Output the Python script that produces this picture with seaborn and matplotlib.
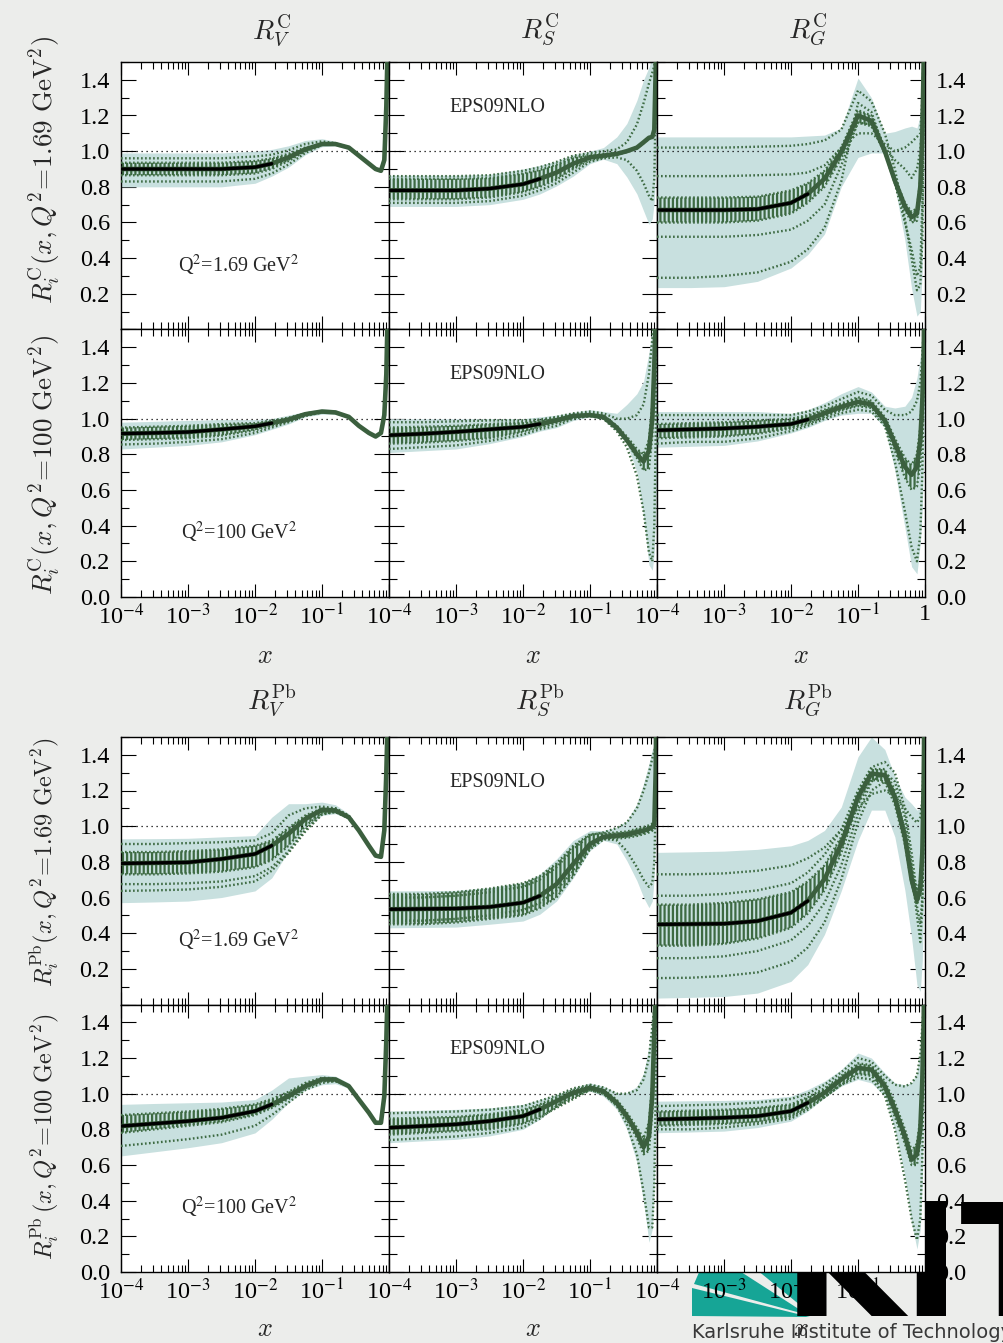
# EPS09NLO: ratios R_i^A(x,Q^2) para carbono (C) y plomo (Pb)
# Valencia (V), mar (S) y gluones (G) a Q^2 = 1.69 y 100 GeV^2
import numpy as np
import matplotlib
matplotlib.use("Agg")
import matplotlib.pyplot as plt
import seaborn as sns
from matplotlib.patches import Polygon
from matplotlib.ticker import (FixedLocator, FixedFormatter, LogLocator,
                               MultipleLocator, FuncFormatter, NullFormatter)

# ------------------------------------------------------------------
# Datos (log10 x comun a todas las curvas)
# ------------------------------------------------------------------
LOGX = [-4, -3.5, -3, -2.5, -2, -1.75, -1.5, -1.25, -1, -0.8, -0.6, -0.45, -0.3, -0.2, -0.12, -0.07, -0.04, -0.02, 0]

# --- Carbono, Q^2 = 1.69 GeV^2 ---
C1V_c   = [0.90, 0.90, 0.90, 0.90, 0.91, 0.93, 0.965, 1.01, 1.04, 1.04, 1.02, 0.975, 0.93, 0.90, 0.89, 0.95, 1.25, 1.60, 2.00]
C1V_lo  = [0.80, 0.80, 0.80, 0.80, 0.82, 0.86, 0.91, 0.98, 1.025, 1.03, 1.01, 0.965, 0.92, 0.89, 0.88, 0.94, 1.24, 1.60, 2.00]
C1V_hi  = [0.99, 0.99, 0.99, 0.99, 1.00, 1.01, 1.03, 1.06, 1.07, 1.055, 1.03, 0.985, 0.94, 0.91, 0.90, 0.96, 1.26, 1.60, 2.00]
C1V_hlo = [0.865, 0.865, 0.865, 0.865, 0.875, 0.90, 0.945, 1.00, 1.04, 1.04, 1.02, 0.975, 0.93, 0.90, 0.89, 0.95, 1.25, 1.60, 2.00]
C1V_hhi = [0.935, 0.935, 0.935, 0.935, 0.945, 0.96, 0.985, 1.02, 1.04, 1.04, 1.02, 0.975, 0.93, 0.90, 0.89, 0.95, 1.25, 1.60, 2.00]
C1V_d1  = [0.83, 0.83, 0.83, 0.83, 0.845, 0.875, 0.925, 0.99, 1.035, 1.04, 1.02, 0.975, 0.93, 0.90, 0.89, 0.95, 1.25, 1.60, 2.00]
C1V_d2  = [0.96, 0.96, 0.96, 0.96, 0.97, 0.98, 1.005, 1.04, 1.055, 1.045, 1.02, 0.975, 0.93, 0.90, 0.89, 0.95, 1.25, 1.60, 2.00]

C1S_c   = [0.78, 0.78, 0.78, 0.79, 0.815, 0.845, 0.88, 0.93, 0.965, 0.975, 0.985, 1.00, 1.02, 1.05, 1.075, 1.08, 1.12, 1.45, 2.00]
C1S_lo  = [0.69, 0.69, 0.69, 0.70, 0.73, 0.76, 0.805, 0.86, 0.93, 0.955, 0.93, 0.855, 0.76, 0.665, 0.59, 0.62, 0.72, 0.90, 1.40]
C1S_hi  = [0.865, 0.865, 0.865, 0.87, 0.90, 0.92, 0.945, 0.98, 1.00, 1.02, 1.08, 1.155, 1.285, 1.40, 1.47, 1.52, 1.55, 1.60, 1.60]
C1S_hlo = [0.73, 0.73, 0.73, 0.74, 0.77, 0.80, 0.84, 0.90, 0.95, 0.965, 0.98, 0.995, 1.015, 1.045, 1.07, 1.075, 1.12, 1.45, 2.00]
C1S_hhi = [0.845, 0.845, 0.845, 0.85, 0.875, 0.895, 0.925, 0.965, 0.98, 0.985, 0.99, 1.00, 1.02, 1.05, 1.075, 1.08, 1.12, 1.45, 2.00]
C1S_d1  = [0.86, 0.86, 0.86, 0.865, 0.89, 0.91, 0.94, 0.975, 0.99, 1.00, 1.01, 1.05, 1.15, 1.27, 1.38, 1.44, 1.48, 1.60, 2.00]
C1S_d2  = [0.71, 0.71, 0.71, 0.72, 0.75, 0.78, 0.82, 0.88, 0.94, 0.96, 0.965, 0.95, 0.89, 0.82, 0.75, 0.72, 0.85, 1.30, 2.00]

C1G_c   = [0.67, 0.67, 0.67, 0.675, 0.71, 0.76, 0.845, 0.995, 1.20, 1.17, 1.00, 0.835, 0.69, 0.63, 0.65, 0.80, 1.09, 1.50, 2.00]
C1G_lo  = [0.235, 0.235, 0.24, 0.27, 0.345, 0.42, 0.535, 0.80, 0.965, 0.99, 0.99, 0.80, 0.50, 0.23, 0.075, 0.10, 0.34, 0.80, 1.30]
C1G_hi  = [1.08, 1.08, 1.08, 1.08, 1.08, 1.085, 1.09, 1.13, 1.41, 1.30, 1.10, 1.11, 1.13, 1.14, 1.13, 1.20, 1.50, 1.60, 1.60]
C1G_hlo = [0.60, 0.60, 0.60, 0.61, 0.65, 0.71, 0.80, 0.96, 1.16, 1.14, 0.99, 0.82, 0.67, 0.60, 0.61, 0.75, 1.05, 1.50, 2.00]
C1G_hhi = [0.74, 0.74, 0.74, 0.745, 0.78, 0.82, 0.89, 1.02, 1.23, 1.20, 1.02, 0.85, 0.71, 0.66, 0.68, 0.84, 1.12, 1.50, 2.00]
C1G_d1  = [1.02, 1.02, 1.02, 1.025, 1.03, 1.04, 1.06, 1.12, 1.34, 1.28, 1.10, 0.90, 0.62, 0.40, 0.22, 0.25, 0.50, 1.20, 2.00]
C1G_d2  = [0.86, 0.86, 0.86, 0.865, 0.87, 0.88, 0.92, 1.02, 1.10, 1.10, 1.04, 1.00, 1.02, 1.05, 1.08, 1.10, 1.30, 1.60, 2.00]
C1G_d3  = [0.29, 0.29, 0.30, 0.32, 0.38, 0.45, 0.57, 0.83, 1.27, 1.22, 1.00, 0.82, 0.60, 0.45, 0.30, 0.35, 0.70, 1.30, 2.00]
C1G_d4  = [0.52, 0.52, 0.52, 0.53, 0.56, 0.61, 0.70, 0.92, 1.16, 1.15, 1.02, 0.95, 0.90, 0.85, 0.90, 1.00, 1.20, 1.50, 2.00]

# --- Carbono, Q^2 = 100 GeV^2 ---
C2V_c   = [0.916, 0.92, 0.925, 0.94, 0.957, 0.975, 0.995, 1.025, 1.04, 1.035, 1.01, 0.96, 0.92, 0.90, 0.92, 1.02, 1.25, 1.60, 2.00]
C2V_lo  = [0.83, 0.84, 0.85, 0.87, 0.91, 0.94, 0.97, 1.01, 1.025, 1.025, 1.00, 0.95, 0.91, 0.89, 0.91, 1.01, 1.24, 1.60, 2.00]
C2V_hi  = [0.98, 0.985, 0.99, 0.995, 0.995, 1.00, 1.02, 1.04, 1.055, 1.05, 1.02, 0.97, 0.93, 0.91, 0.93, 1.03, 1.26, 1.60, 2.00]
C2V_hlo = [0.88, 0.885, 0.89, 0.905, 0.935, 0.96, 0.985, 1.02, 1.04, 1.035, 1.01, 0.96, 0.92, 0.90, 0.92, 1.02, 1.25, 1.60, 2.00]
C2V_hhi = [0.95, 0.955, 0.96, 0.97, 0.975, 0.99, 1.005, 1.03, 1.04, 1.035, 1.01, 0.96, 0.92, 0.90, 0.92, 1.02, 1.25, 1.60, 2.00]
C2V_d1  = [0.855, 0.86, 0.87, 0.885, 0.92, 0.95, 0.98, 1.015, 1.035, 1.035, 1.01, 0.96, 0.92, 0.90, 0.92, 1.02, 1.25, 1.60, 2.00]

C2S_c   = [0.907, 0.915, 0.926, 0.94, 0.954, 0.97, 0.99, 1.015, 1.02, 1.01, 0.95, 0.88, 0.80, 0.76, 0.82, 1.00, 1.30, 1.60, 2.00]
C2S_lo  = [0.81, 0.82, 0.83, 0.86, 0.90, 0.93, 0.95, 0.99, 1.01, 0.995, 0.93, 0.86, 0.70, 0.45, 0.18, 0.15, 0.25, 0.45, 0.80]
C2S_hi  = [1.00, 1.00, 1.00, 1.00, 1.00, 1.01, 1.02, 1.035, 1.05, 1.04, 1.03, 1.08, 1.14, 1.21, 1.37, 1.50, 1.60, 1.60, 2.00]
C2S_hlo = [0.86, 0.865, 0.875, 0.89, 0.925, 0.95, 0.975, 1.005, 1.015, 1.00, 0.94, 0.87, 0.78, 0.71, 0.72, 0.90, 1.20, 1.60, 2.00]
C2S_hhi = [0.95, 0.955, 0.96, 0.97, 0.98, 0.99, 1.005, 1.025, 1.03, 1.02, 0.96, 0.90, 0.83, 0.80, 0.88, 1.08, 1.35, 1.60, 2.00]
C2S_d1  = [0.83, 0.84, 0.85, 0.875, 0.91, 0.94, 0.96, 1.00, 1.015, 1.00, 0.93, 0.84, 0.68, 0.48, 0.25, 0.20, 0.40, 0.90, 2.00]
C2S_d2  = [0.98, 0.98, 0.985, 0.99, 0.99, 0.995, 1.01, 1.03, 1.04, 1.03, 1.00, 1.00, 1.02, 1.08, 1.25, 1.45, 1.60, 2.00, 2.00]

C2G_c   = [0.935, 0.94, 0.945, 0.955, 0.97, 0.995, 1.03, 1.066, 1.094, 1.08, 0.99, 0.86, 0.73, 0.685, 0.73, 0.88, 1.10, 1.35, 2.00]
C2G_lo  = [0.84, 0.845, 0.85, 0.875, 0.92, 0.95, 0.99, 1.02, 1.03, 1.03, 0.95, 0.71, 0.39, 0.17, 0.13, 0.30, 0.50, 0.80, 1.20]
C2G_hi  = [1.04, 1.04, 1.04, 1.04, 1.03, 1.05, 1.09, 1.14, 1.18, 1.15, 1.07, 1.06, 1.07, 1.12, 1.23, 1.35, 1.45, 1.50, 2.00]
C2G_hlo = [0.89, 0.895, 0.90, 0.915, 0.945, 0.97, 1.01, 1.045, 1.07, 1.06, 0.97, 0.82, 0.67, 0.60, 0.62, 0.75, 1.00, 1.35, 2.00]
C2G_hhi = [0.97, 0.975, 0.98, 0.99, 1.00, 1.02, 1.05, 1.085, 1.12, 1.10, 1.01, 0.89, 0.78, 0.74, 0.80, 0.95, 1.20, 1.45, 2.00]
C2G_d1  = [0.86, 0.87, 0.87, 0.89, 0.93, 0.96, 1.00, 1.03, 1.05, 1.04, 0.96, 0.76, 0.48, 0.28, 0.20, 0.35, 0.70, 1.20, 2.00]
C2G_d2  = [1.02, 1.02, 1.02, 1.02, 1.02, 1.04, 1.07, 1.11, 1.15, 1.13, 1.05, 1.02, 1.02, 1.04, 1.10, 1.20, 1.35, 1.50, 2.00]

# --- Plomo, Q^2 = 1.69 GeV^2 ---
P1V_c   = [0.791, 0.794, 0.797, 0.816, 0.844, 0.891, 0.957, 1.04, 1.092, 1.088, 1.05, 0.976, 0.89, 0.835, 0.828, 0.976, 1.30, 1.60, 2.00]
P1V_lo  = [0.571, 0.575, 0.58, 0.60, 0.637, 0.71, 0.86, 0.99, 1.06, 1.07, 1.04, 0.966, 0.88, 0.825, 0.818, 0.966, 1.29, 1.60, 2.00]
P1V_hi  = [0.929, 0.93, 0.932, 0.94, 0.947, 1.05, 1.126, 1.126, 1.135, 1.12, 1.07, 0.986, 0.90, 0.845, 0.838, 0.986, 1.31, 1.60, 2.00]
P1V_hlo = [0.73, 0.73, 0.735, 0.745, 0.77, 0.81, 0.89, 1.00, 1.075, 1.08, 1.045, 0.976, 0.89, 0.835, 0.828, 0.976, 1.30, 1.60, 2.00]
P1V_hhi = [0.855, 0.855, 0.86, 0.87, 0.89, 0.92, 0.99, 1.06, 1.10, 1.10, 1.055, 0.976, 0.89, 0.835, 0.828, 0.976, 1.30, 1.60, 2.00]
P1V_d1  = [0.675, 0.675, 0.68, 0.69, 0.72, 0.77, 0.86, 0.98, 1.07, 1.08, 1.045, 0.976, 0.89, 0.835, 0.828, 0.976, 1.30, 1.60, 2.00]
P1V_d2  = [0.637, 0.64, 0.645, 0.66, 0.69, 0.75, 0.85, 0.97, 1.065, 1.08, 1.045, 0.976, 0.89, 0.835, 0.828, 0.976, 1.30, 1.60, 2.00]
P1V_d3  = [0.90, 0.90, 0.905, 0.91, 0.92, 0.96, 1.06, 1.10, 1.11, 1.10, 1.06, 0.976, 0.89, 0.835, 0.828, 0.976, 1.30, 1.60, 2.00]

P1S_c   = [0.534, 0.536, 0.538, 0.547, 0.571, 0.609, 0.675, 0.788, 0.90, 0.94, 0.947, 0.953, 0.966, 0.975, 0.985, 0.994, 1.01, 1.30, 2.00]
P1S_lo  = [0.43, 0.432, 0.434, 0.45, 0.468, 0.506, 0.58, 0.71, 0.863, 0.92, 0.90, 0.806, 0.694, 0.60, 0.543, 0.58, 0.72, 1.00, 1.40]
P1S_hi  = [0.637, 0.638, 0.64, 0.656, 0.684, 0.73, 0.816, 0.92, 0.975, 0.975, 0.994, 1.03, 1.126, 1.24, 1.35, 1.43, 1.46, 1.50, 1.60]
P1S_hlo = [0.45, 0.45, 0.46, 0.48, 0.50, 0.54, 0.60, 0.72, 0.87, 0.925, 0.93, 0.935, 0.945, 0.955, 0.965, 0.975, 1.00, 1.30, 2.00]
P1S_hhi = [0.62, 0.62, 0.63, 0.65, 0.68, 0.72, 0.79, 0.89, 0.955, 0.96, 0.965, 0.97, 0.985, 0.995, 1.005, 1.015, 1.03, 1.30, 2.00]
P1S_d1  = [0.60, 0.60, 0.61, 0.63, 0.66, 0.70, 0.77, 0.87, 0.95, 0.965, 0.99, 1.02, 1.10, 1.20, 1.30, 1.38, 1.42, 1.45, 2.00]
P1S_d2  = [0.47, 0.47, 0.48, 0.50, 0.53, 0.57, 0.64, 0.75, 0.88, 0.93, 0.92, 0.86, 0.77, 0.70, 0.66, 0.68, 0.80, 1.10, 2.00]

P1G_c   = [0.449, 0.451, 0.453, 0.468, 0.515, 0.581, 0.703, 0.90, 1.163, 1.295, 1.286, 1.163, 0.938, 0.70, 0.585, 0.65, 0.85, 1.25, 2.00]
P1G_lo  = [0.036, 0.04, 0.045, 0.064, 0.13, 0.224, 0.393, 0.637, 0.919, 1.09, 1.09, 0.94, 0.64, 0.374, 0.11, 0.073, 0.25, 0.60, 1.00]
P1G_hi  = [0.853, 0.856, 0.86, 0.87, 0.89, 0.92, 0.976, 1.107, 1.389, 1.50, 1.43, 1.28, 1.163, 1.126, 1.09, 1.10, 1.25, 1.45, 1.60]
P1G_hlo = [0.33, 0.33, 0.34, 0.37, 0.43, 0.51, 0.64, 0.85, 1.12, 1.26, 1.25, 1.12, 0.90, 0.68, 0.56, 0.62, 0.82, 1.25, 2.00]
P1G_hhi = [0.56, 0.56, 0.57, 0.59, 0.63, 0.69, 0.78, 0.94, 1.19, 1.32, 1.32, 1.20, 0.98, 0.76, 0.64, 0.70, 0.90, 1.30, 2.00]
P1G_d1  = [0.73, 0.73, 0.735, 0.75, 0.78, 0.82, 0.88, 0.98, 1.10, 1.18, 1.20, 1.17, 1.10, 1.05, 1.02, 1.05, 1.15, 1.40, 2.00]
P1G_d2  = [0.61, 0.61, 0.62, 0.64, 0.68, 0.74, 0.84, 0.98, 1.20, 1.33, 1.36, 1.30, 1.10, 0.85, 0.62, 0.60, 0.80, 1.20, 2.00]
P1G_d3  = [0.148, 0.15, 0.16, 0.18, 0.24, 0.32, 0.46, 0.70, 1.02, 1.20, 1.25, 1.18, 0.98, 0.75, 0.50, 0.35, 0.55, 1.00, 2.00]
P1G_d4  = [0.26, 0.26, 0.27, 0.30, 0.36, 0.44, 0.57, 0.78, 1.07, 1.25, 1.30, 1.25, 1.05, 0.78, 0.55, 0.45, 0.60, 1.00, 2.00]

# --- Plomo, Q^2 = 100 GeV^2 ---
P2V_c   = [0.818, 0.832, 0.846, 0.865, 0.902, 0.94, 0.986, 1.042, 1.08, 1.08, 1.042, 0.967, 0.893, 0.837, 0.837, 0.986, 1.30, 1.60, 2.00]
P2V_lo  = [0.651, 0.674, 0.697, 0.725, 0.78, 0.856, 0.949, 1.02, 1.05, 1.056, 1.03, 0.957, 0.883, 0.827, 0.827, 0.976, 1.29, 1.60, 2.00]
P2V_hi  = [0.94, 0.945, 0.949, 0.953, 0.967, 1.02, 1.088, 1.098, 1.107, 1.098, 1.06, 0.977, 0.903, 0.847, 0.847, 0.996, 1.31, 1.60, 2.00]
P2V_hlo = [0.78, 0.80, 0.82, 0.84, 0.88, 0.92, 0.97, 1.03, 1.07, 1.07, 1.042, 0.967, 0.893, 0.837, 0.837, 0.986, 1.30, 1.60, 2.00]
P2V_hhi = [0.88, 0.89, 0.90, 0.915, 0.94, 0.97, 1.01, 1.06, 1.09, 1.085, 1.042, 0.967, 0.893, 0.837, 0.837, 0.986, 1.30, 1.60, 2.00]
P2V_d1  = [0.707, 0.725, 0.745, 0.77, 0.82, 0.88, 0.95, 1.02, 1.06, 1.07, 1.042, 0.967, 0.893, 0.837, 0.837, 0.986, 1.30, 1.60, 2.00]

P2S_c   = [0.809, 0.818, 0.828, 0.846, 0.874, 0.912, 0.958, 1.005, 1.033, 1.014, 0.949, 0.874, 0.781, 0.70, 0.76, 0.99, 1.35, 1.60, 2.00]
P2S_lo  = [0.725, 0.735, 0.744, 0.763, 0.80, 0.856, 0.93, 0.986, 1.014, 0.986, 0.912, 0.80, 0.614, 0.39, 0.167, 0.24, 0.50, 0.80, 1.20]
P2S_hi  = [0.902, 0.907, 0.912, 0.92, 0.94, 0.967, 0.995, 1.033, 1.06, 1.042, 1.005, 1.005, 1.04, 1.116, 1.265, 1.43, 1.50, 1.60, 2.00]
P2S_hlo = [0.77, 0.78, 0.79, 0.80, 0.83, 0.87, 0.92, 0.97, 1.02, 1.00, 0.935, 0.855, 0.75, 0.66, 0.68, 0.90, 1.25, 1.60, 2.00]
P2S_hhi = [0.86, 0.865, 0.87, 0.885, 0.91, 0.94, 0.98, 1.02, 1.045, 1.025, 0.965, 0.895, 0.81, 0.75, 0.84, 1.06, 1.40, 1.60, 2.00]
P2S_d1  = [0.74, 0.75, 0.76, 0.78, 0.81, 0.86, 0.93, 0.99, 1.02, 1.00, 0.93, 0.83, 0.66, 0.45, 0.25, 0.25, 0.50, 1.00, 2.00]
P2S_d2  = [0.89, 0.895, 0.90, 0.91, 0.93, 0.96, 0.99, 1.03, 1.05, 1.035, 1.00, 1.00, 1.02, 1.08, 1.20, 1.38, 1.48, 1.60, 2.00]

P2G_c   = [0.856, 0.86, 0.865, 0.874, 0.902, 0.949, 1.005, 1.08, 1.144, 1.135, 1.042, 0.912, 0.763, 0.63, 0.66, 0.80, 1.08, 1.40, 2.00]
P2G_lo  = [0.781, 0.785, 0.79, 0.81, 0.846, 0.902, 0.977, 1.042, 1.08, 1.06, 0.986, 0.80, 0.539, 0.278, 0.129, 0.24, 0.50, 0.90, 1.30]
P2G_hi  = [0.958, 0.96, 0.962, 0.967, 0.986, 1.023, 1.07, 1.135, 1.228, 1.20, 1.116, 1.06, 1.05, 1.06, 1.116, 1.265, 1.43, 1.50, 2.00]
P2G_hlo = [0.82, 0.825, 0.83, 0.84, 0.87, 0.92, 0.98, 1.05, 1.11, 1.10, 1.01, 0.87, 0.72, 0.60, 0.60, 0.74, 1.00, 1.35, 2.00]
P2G_hhi = [0.90, 0.905, 0.91, 0.92, 0.94, 0.98, 1.03, 1.10, 1.17, 1.16, 1.07, 0.95, 0.80, 0.68, 0.72, 0.86, 1.15, 1.45, 2.00]
P2G_d1  = [0.80, 0.80, 0.81, 0.83, 0.86, 0.91, 0.98, 1.05, 1.09, 1.08, 0.99, 0.80, 0.52, 0.30, 0.18, 0.30, 0.65, 1.10, 2.00]
P2G_d2  = [0.93, 0.935, 0.94, 0.95, 0.97, 1.00, 1.05, 1.12, 1.20, 1.18, 1.10, 1.05, 1.04, 1.06, 1.10, 1.22, 1.38, 1.50, 2.00]

# Textos
COL_TITLES = {"C": [r"$R_V^{\rm C}$", r"$R_S^{\rm C}$", r"$R_G^{\rm C}$"],
              "Pb": [r"$R_V^{\rm Pb}$", r"$R_S^{\rm Pb}$", r"$R_G^{\rm Pb}$"]}
ROW_YLABELS = {("C", 0): r"$R_i^{\rm C}(x,Q^2\!=\!1.69\ {\rm GeV}^2)$",
               ("C", 1): r"$R_i^{\rm C}(x,Q^2\!=\!100\ {\rm GeV}^2)$",
               ("Pb", 0): r"$R_i^{\rm Pb}(x,Q^2\!=\!1.69\ {\rm GeV}^2)$",
               ("Pb", 1): r"$R_i^{\rm Pb}\,(x,Q^2\!=\!100\ {\rm GeV}^2)$"}
Q2_TEXT = ["Q$^2$=1.69 GeV$^2$", "Q$^2$=100 GeV$^2$"]
XTICKS = [1e-4, 1e-3, 1e-2, 1e-1, 1.0]
XTICKLABELS = ["10$^{-4}$", "10$^{-3}$", "10$^{-2}$", "10$^{-1}$", "1"]

PANELS = {
    ("C", 0, 0): (C1V_c, C1V_lo, C1V_hi, C1V_hlo, C1V_hhi, [C1V_d1, C1V_d2]),
    ("C", 0, 1): (C1S_c, C1S_lo, C1S_hi, C1S_hlo, C1S_hhi, [C1S_d1, C1S_d2]),
    ("C", 0, 2): (C1G_c, C1G_lo, C1G_hi, C1G_hlo, C1G_hhi, [C1G_d1, C1G_d2, C1G_d3, C1G_d4]),
    ("C", 1, 0): (C2V_c, C2V_lo, C2V_hi, C2V_hlo, C2V_hhi, [C2V_d1]),
    ("C", 1, 1): (C2S_c, C2S_lo, C2S_hi, C2S_hlo, C2S_hhi, [C2S_d1, C2S_d2]),
    ("C", 1, 2): (C2G_c, C2G_lo, C2G_hi, C2G_hlo, C2G_hhi, [C2G_d1, C2G_d2]),
    ("Pb", 0, 0): (P1V_c, P1V_lo, P1V_hi, P1V_hlo, P1V_hhi, [P1V_d1, P1V_d2, P1V_d3]),
    ("Pb", 0, 1): (P1S_c, P1S_lo, P1S_hi, P1S_hlo, P1S_hhi, [P1S_d1, P1S_d2]),
    ("Pb", 0, 2): (P1G_c, P1G_lo, P1G_hi, P1G_hlo, P1G_hhi, [P1G_d1, P1G_d2, P1G_d3, P1G_d4]),
    ("Pb", 1, 0): (P2V_c, P2V_lo, P2V_hi, P2V_hlo, P2V_hhi, [P2V_d1]),
    ("Pb", 1, 1): (P2S_c, P2S_lo, P2S_hi, P2S_hlo, P2S_hhi, [P2S_d1, P2S_d2]),
    ("Pb", 1, 2): (P2G_c, P2G_lo, P2G_hi, P2G_hlo, P2G_hhi, [P2G_d1, P2G_d2]),
}

# ------------------------------------------------------------------
# Estilo
# ------------------------------------------------------------------
sns.set_theme(style="ticks")
plt.rcParams["font.family"] = ["Liberation Serif", "DejaVu Serif"]
plt.rcParams["mathtext.fontset"] = "stix"
plt.rcParams["hatch.color"] = "#3d6a42"
plt.rcParams["hatch.linewidth"] = 1.6

BG = "#ecedeb"
BAND = "#c8e0df"
GREEN = "#3b5f3e"
DOT = "#3d6a42"
TEAL = "#16a596"
BLACK_MAX_LOGX = -1.75   # la central se ve negra solo a x pequeno

W, H = 1004, 1343
fig = plt.figure(figsize=(W / 100, H / 100), dpi=100, facecolor=BG)


def fx(px):
    return px / W


def fy(py):
    return 1 - py / H


COL_LEFT = [121, 389, 657]
COL_W = 268
ROW_H = 267.5
BLOCK_TOP = {"C": 62, "Pb": 737}


def draw_panel(ax, c, lo, hi, hlo, hhi, dots):
    ax.set_xscale("log")
    x = 10.0 ** np.array(LOGX)
    ax.fill_between(x, lo, hi, color=BAND, lw=0, zorder=1)
    ax.fill_between(x, hlo, hhi, facecolor="none", edgecolor=DOT,
                    hatch="||||", lw=0, zorder=2)
    ax.axhline(1.0, color="black", lw=0.9, ls=(0, (1, 3)), zorder=2.5)
    for d in [hlo, hhi] + dots:
        sns.lineplot(x=x, y=d, ax=ax, color=DOT, linewidth=1.7,
                     linestyle=(0, (0.7, 1.0)), estimator=None, sort=False, zorder=3)
    sns.lineplot(x=x, y=c, ax=ax, color=GREEN, linewidth=3.3,
                 estimator=None, sort=False, zorder=4,
                 solid_joinstyle="round", solid_capstyle="round")
    keep = np.array(LOGX) <= BLACK_MAX_LOGX
    sns.lineplot(x=x[keep], y=np.array(c)[keep], ax=ax, color="black",
                 linewidth=2.4, estimator=None, sort=False, zorder=5)


def style_axes(ax, row, col):
    ax.set_xlim(1e-4, 1)
    ax.set_ylim(0, 1.5)
    ax.set_facecolor("white")
    ax.set_xlabel("")
    ax.set_ylabel("")
    for s in ax.spines.values():
        s.set_color("black")
        s.set_linewidth(1.0)
    ax.xaxis.set_major_locator(FixedLocator(XTICKS))
    labels = list(XTICKLABELS) if col == 2 else XTICKLABELS[:-1] + [""]
    ax.xaxis.set_major_formatter(FixedFormatter(labels))
    ax.xaxis.set_minor_locator(LogLocator(base=10, subs=np.arange(2, 10), numticks=20))
    ax.xaxis.set_minor_formatter(NullFormatter())
    ax.yaxis.set_major_locator(MultipleLocator(0.2))
    ax.yaxis.set_minor_locator(MultipleLocator(0.1))
    ax.yaxis.set_major_formatter(FuncFormatter(
        lambda v, p: "" if (row == 0 and v < 0.05) else f"{v:.1f}"))
    ax.tick_params(which="both", direction="in", top=True, bottom=True,
                   left=True, right=True, width=0.8, color="black",
                   labelsize=17.5, labelcolor="black")
    ax.tick_params(axis="x", which="major", length=9.5, pad=5)
    ax.tick_params(axis="x", which="minor", length=5)
    ax.tick_params(axis="y", which="major", length=11, pad=8)
    ax.tick_params(axis="y", which="minor", length=6)
    ax.tick_params(labelbottom=(row == 1), labeltop=False,
                   labelleft=(col == 0), labelright=(col == 2))


for (block, row, col), (c, lo, hi, hlo, hhi, dots) in PANELS.items():
    top = BLOCK_TOP[block] + row * ROW_H
    rect = [fx(COL_LEFT[col]), fy(top + ROW_H), COL_W / W, ROW_H / H]
    ax = fig.add_axes(rect)
    draw_panel(ax, c, lo, hi, hlo, hhi, dots)
    style_axes(ax, row, col)
    if col == 1:
        ax.text(0.405, 0.83, "EPS09NLO", transform=ax.transAxes,
                ha="center", va="center", fontsize=14.5, zorder=10)
    if col == 0:
        ax.text(0.44, 0.24, Q2_TEXT[row], transform=ax.transAxes,
                ha="center", va="center", fontsize=14.5, zorder=10)

# titulos de columna, etiquetas x e y
TITLE_Y = {"C": 30, "Pb": 700}
XLABEL_Y = {"C": 657, "Pb": 1330}
YLABEL_Y = {("C", 0): 170, ("C", 1): 465, ("Pb", 0): 862, ("Pb", 1): 1137}
YLABEL_SIZE = {"C": 19.5, "Pb": 17.5}
for block in ["C", "Pb"]:
    for col in range(3):
        cx = COL_LEFT[col] + COL_W / 2
        fig.text(fx(cx + 17), fy(TITLE_Y[block]), COL_TITLES[block][col],
                 ha="center", va="center", fontsize=20, math_fontfamily="cm")
        fig.text(fx(cx + 10), fy(XLABEL_Y[block]), "$x$",
                 ha="center", va="center", fontsize=19, math_fontfamily="cm")
for key, yl in ROW_YLABELS.items():
    fig.text(fx(45), fy(YLABEL_Y[key]), yl, rotation=90, ha="center",
             va="center", fontsize=YLABEL_SIZE[key[0]], math_fontfamily="cm")

# logo KIT de la diapositiva (detras de los paneles)
for pts in ([(692, 1288), (692, 1316), (810, 1317)],
            [(694, 1284), (700, 1270), (738, 1270), (808, 1315)],
            [(757, 1270), (803, 1270), (811, 1314)]):
    fig.add_artist(Polygon([(fx(a), fy(b)) for a, b in pts], closed=True,
                           transform=fig.transFigure, color=TEAL, lw=0, zorder=-2))
fig.text(fx(783), fy(1316), "KIT", fontsize=112, fontweight="bold",
         family="DejaVu Sans", color="black", va="baseline", ha="left", zorder=-1)
fig.text(fx(692), fy(1338), "Karlsruhe Institute of Technology", fontsize=14,
         family="DejaVu Sans", color="#383838", va="baseline", ha="left", zorder=-1)

fig.savefig("out.png", dpi=100, facecolor=BG)
